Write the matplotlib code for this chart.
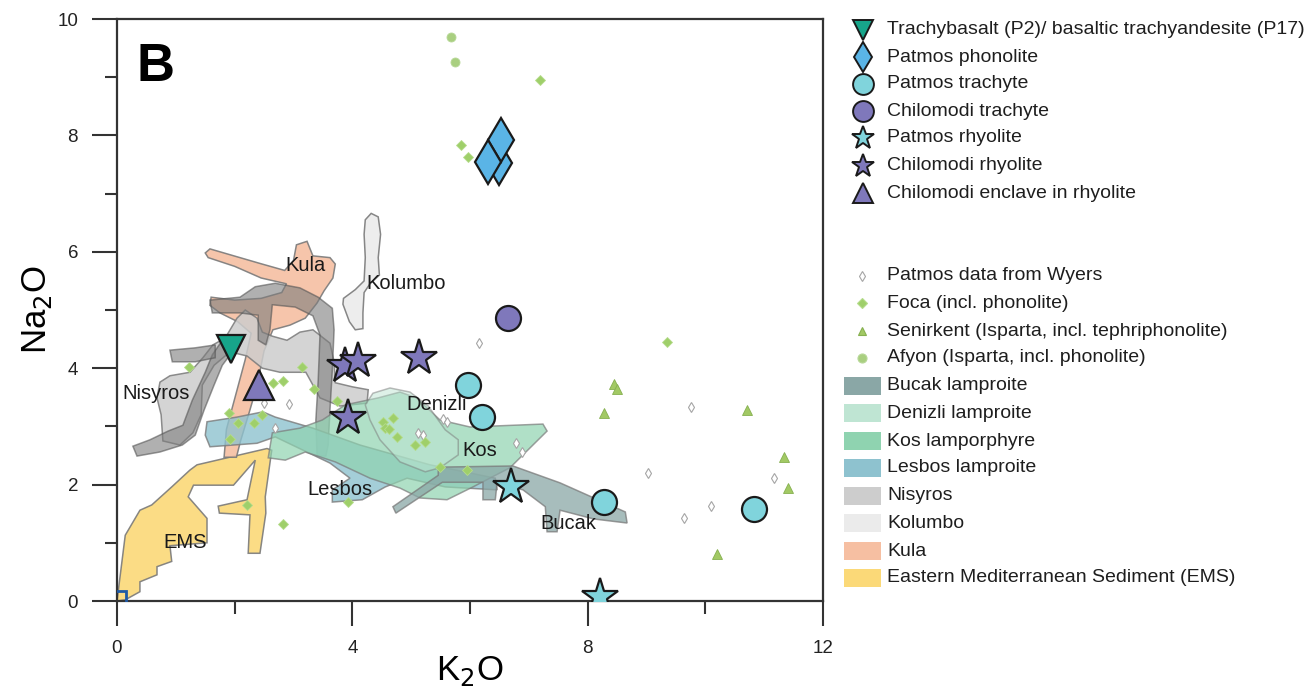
import matplotlib
matplotlib.use("Agg")
import matplotlib.pyplot as plt
from matplotlib.patches import Polygon, Rectangle

plt.rcParams['font.family'] = ['Liberation Sans', 'DejaVu Sans']

# ---------------- sample compositions (K2O, Na2O in wt%) ----------------
trachybasalt_k2o = [1.94]
trachybasalt_na2o = [4.33]
patmos_phonolite_k2o = [6.49, 6.53, 6.30]
patmos_phonolite_na2o = [7.52, 7.92, 7.55]
patmos_trachyte_k2o = [5.97, 6.21, 8.27, 10.82]
patmos_trachyte_na2o = [3.71, 3.16, 1.70, 1.58]
chilomodi_trachyte_k2o = [6.65]
chilomodi_trachyte_na2o = [4.86]
patmos_rhyolite_k2o = [6.70, 8.21]
patmos_rhyolite_na2o = [1.96, 0.07]
chilomodi_rhyolite_k2o = [3.88, 4.10, 5.14, 3.93]
chilomodi_rhyolite_na2o = [4.04, 4.12, 4.18, 3.14]
chilomodi_enclave_k2o = [2.41]
chilomodi_enclave_na2o = [3.71]
origin_k2o = [0.05]
origin_na2o = [0.07]

# ---------------- literature data ----------------
wyers_k2o = [6.16, 5.54, 5.61, 5.12, 5.20, 6.79, 6.89, 9.76, 9.03, 10.10, 9.64, 11.16, 2.50, 2.93, 2.69]
wyers_na2o = [4.43, 3.13, 3.08, 2.89, 2.85, 2.71, 2.56, 3.33, 2.20, 1.63, 1.43, 2.11, 3.40, 3.38, 2.97]
foca_k2o = [7.19, 5.85, 5.97, 9.35, 1.22, 2.65, 2.82, 3.15, 3.35, 3.74, 1.90, 2.06, 2.33, 2.47,
            1.92, 2.21, 2.82, 4.52, 4.69, 4.56, 4.63, 4.76, 5.07, 5.24, 5.49, 5.95, 3.93]
foca_na2o = [8.95, 7.84, 7.63, 4.45, 4.02, 3.75, 3.78, 4.02, 3.64, 3.44, 3.23, 3.06, 3.06, 3.20,
             2.78, 1.65, 1.32, 3.08, 3.14, 2.97, 2.96, 2.82, 2.68, 2.73, 2.30, 2.25, 1.70]
senirkent_k2o = [8.44, 8.50, 8.28, 10.70, 11.34, 11.41, 10.19]
senirkent_na2o = [3.73, 3.64, 3.23, 3.28, 2.47, 1.94, 0.81]
afyon_k2o = [5.68, 5.75]
afyon_na2o = [9.69, 9.26]

# ---------------- compositional fields (outlines) ----------------
ems_k2o = [0.00, 0.14, 0.39, 0.39, 0.68, 0.68, 0.93, 0.90, 1.53, 1.53, 1.21, 1.30, 1.98, 2.35, 2.21,
           1.72, 1.74, 2.26, 2.23, 2.43, 2.53, 2.52, 2.63, 2.55, 2.21, 1.36, 1.24, 0.93, 0.59, 0.39, 0.14]
ems_na2o = [0.00, 0.02, 0.16, 0.33, 0.45, 0.59, 0.68, 0.95, 1.00, 1.42, 1.79, 1.99, 1.99, 2.42, 1.74,
            1.63, 1.51, 1.48, 0.82, 0.82, 1.51, 1.79, 2.59, 2.62, 2.54, 2.34, 2.25, 1.96, 1.65, 1.56, 1.13]

kula_k2o = [1.58, 2.43, 2.85, 3.00, 3.05, 3.23, 3.33, 3.62, 3.71, 3.67, 3.52, 3.40, 3.20, 2.94, 2.65,
            2.50, 2.38, 2.25, 2.10, 2.03, 1.82, 1.86, 2.02, 2.18, 2.28, 2.05, 1.75, 1.58, 1.60, 2.00,
            2.45, 2.80, 2.88, 2.45, 2.00, 1.55, 1.50]
kula_na2o = [6.05, 5.80, 5.68, 5.85, 6.12, 6.18, 5.93, 5.90, 5.79, 5.55, 5.33, 5.12, 4.86, 4.74, 4.66,
             4.30, 3.70, 3.25, 2.75, 2.47, 2.47, 2.95, 3.55, 4.15, 4.60, 4.80, 4.95, 5.08, 5.22, 5.17,
             5.20, 5.30, 5.45, 5.55, 5.75, 5.90, 5.98]

kolumbo_k2o = [4.22, 4.32, 4.44, 4.48, 4.44, 4.46, 4.30, 4.20, 4.18, 4.18, 4.05, 3.95, 3.84, 3.85, 4.05, 4.20, 4.22, 4.20]
kolumbo_na2o = [6.55, 6.66, 6.60, 6.30, 5.90, 5.60, 5.45, 5.30, 4.95, 4.68, 4.66, 4.80, 5.10, 5.20, 5.35, 5.50, 5.90, 6.30]

nisyros_k2o = [0.73, 0.90, 1.24, 1.46, 1.63, 1.84, 2.04, 2.18, 2.38, 2.47, 2.64, 2.89, 3.11, 3.33, 3.62,
               3.69, 3.71, 4.00, 4.27, 4.25, 3.79, 3.45, 3.21, 2.77, 2.47, 2.21, 1.92, 1.65, 1.45, 1.43,
               1.29, 1.07, 0.78, 0.75, 0.68]
nisyros_na2o = [3.76, 3.87, 3.93, 4.18, 4.40, 4.52, 4.86, 5.00, 4.86, 4.62, 4.55, 4.48, 4.62, 4.66, 4.43,
                4.11, 3.75, 3.68, 3.63, 3.40, 3.35, 3.49, 3.93, 3.93, 4.00, 4.21, 4.28, 4.05, 3.71, 3.20,
                2.89, 2.68, 2.75, 3.20, 3.49]

grey_a_k2o = [1.58, 2.09, 2.35, 2.69, 3.11, 3.42, 3.66, 3.69, 3.66, 3.62, 3.59, 3.55, 3.40, 3.38, 3.42,
              3.45, 3.33, 3.03, 2.64, 2.60, 2.53, 2.40, 2.40, 2.09, 1.62]
grey_a_na2o = [5.17, 5.22, 5.40, 5.46, 5.38, 5.22, 5.03, 4.66, 3.97, 3.28, 2.68, 2.49, 2.49, 3.11, 3.80,
               4.57, 4.90, 5.05, 5.09, 4.66, 4.40, 4.48, 4.91, 4.95, 4.95]
grey_b_k2o = [0.27, 0.56, 0.87, 1.12, 1.28, 1.50, 1.62, 1.79, 2.01, 1.96, 1.79, 1.65, 1.48, 1.33, 1.11, 0.73, 0.34]
grey_b_na2o = [2.66, 2.77, 2.92, 3.02, 3.45, 3.93, 4.23, 4.48, 4.52, 4.28, 4.05, 3.71, 3.28, 2.85, 2.68, 2.56, 2.49]
grey_c_k2o = [0.90, 1.33, 1.67, 1.67, 1.33, 0.94]
grey_c_na2o = [4.31, 4.35, 4.40, 4.18, 4.11, 4.11]

lesbos_k2o = [1.53, 2.04, 2.48, 2.69, 3.33, 4.13, 5.32, 6.43, 6.46, 5.58, 4.93, 4.56, 4.17, 3.66, 3.66,
              3.96, 3.62, 2.69, 2.38, 1.58, 1.50]
lesbos_na2o = [3.08, 3.16, 3.25, 3.16, 2.97, 2.68, 2.34, 2.11, 1.91, 1.96, 2.11, 1.96, 1.74, 1.70, 1.91,
               2.11, 2.37, 2.82, 2.71, 2.65, 2.85]

kos_k2o = [2.57, 2.64, 3.11, 3.49, 3.88, 4.44, 4.81, 5.09, 5.49, 6.00, 7.24, 7.31, 6.68, 6.05, 5.61,
           5.15, 4.81, 4.30, 3.71, 3.20, 2.86]
kos_na2o = [2.46, 2.89, 2.97, 3.11, 3.37, 3.49, 3.59, 3.49, 3.11, 2.99, 3.04, 2.92, 2.29, 1.96, 1.74,
            1.77, 1.94, 2.11, 2.39, 2.56, 2.42]

denizli_k2o = [4.35, 4.64, 4.98, 5.29, 5.58, 5.80, 5.80, 5.49, 5.24, 4.81, 4.47, 4.30, 4.22]
denizli_na2o = [3.57, 3.66, 3.59, 3.35, 2.94, 2.77, 2.51, 2.29, 2.22, 2.39, 2.77, 3.11, 3.37]

bucak_k2o = [4.69, 5.46, 5.46, 6.73, 7.53, 8.64, 8.67, 8.10, 7.53, 7.48, 7.31, 7.28, 6.90, 6.46, 6.43,
             6.22, 6.22, 5.53, 4.74]
bucak_na2o = [1.62, 2.16, 2.30, 2.32, 2.03, 1.53, 1.34, 1.41, 1.56, 1.19, 1.19, 1.62, 1.91, 2.03, 1.74,
              1.74, 2.04, 2.04, 1.51]

field_labels = ['Kula', 'Kolumbo', 'Nisyros', 'Denizli', 'Kos', 'Lesbos', 'Bucak', 'EMS']
field_label_k2o = [3.21, 4.91, 0.66, 5.43, 6.16, 3.79, 7.67, 1.16]
field_label_na2o = [5.77, 5.46, 3.57, 3.37, 2.58, 1.91, 1.34, 1.01]

x_ticks = [0, 4, 8, 12]
y_ticks = [0, 2, 4, 6, 8, 10]

# ---------------- colours ----------------
C_BUCAK = '#8aa7a6'
C_DENIZLI = '#bfe5d3'
C_KOS = '#8fd3b0'
C_LESBOS = '#8ec2cf'
C_NISYROS = '#cdcdcd'
C_KOLUMBO = '#ebebeb'
C_KULA = '#f6bfa2'
C_EMS = '#fbd978'
C_GREY = '#7c7c7c'
C_TEAL = '#17a58a'
C_BLUE = '#5ab4e6'
C_CYAN = '#80d4dc'
C_PURPLE = '#7f78bb'
C_GREEN = '#9fcf6a'
C_TRI = '#a2c964'
C_AFY = '#a9cf80'

fig = plt.figure(figsize=(13.08, 6.90), dpi=100)
ax = fig.add_axes([117 / 1308, 1 - 601 / 690, 706 / 1308, 582 / 690])

def field(xs, ys, color, alpha, z, edge='#7a7a7a'):
    ax.add_patch(Polygon(list(zip(xs, ys)), closed=True, facecolor=color, alpha=alpha,
                         edgecolor=edge, linewidth=1.1, zorder=z))

field(ems_k2o, ems_na2o, C_EMS, 0.9, 1)
field(kula_k2o, kula_na2o, C_KULA, 0.9, 1.1)
field(nisyros_k2o, nisyros_na2o, C_NISYROS, 0.85, 1.2)
field(kolumbo_k2o, kolumbo_na2o, C_KOLUMBO, 0.9, 1.3)
field(grey_a_k2o, grey_a_na2o, C_GREY, 0.6, 1.4, edge='#555555')
field(grey_b_k2o, grey_b_na2o, C_GREY, 0.6, 1.4, edge='#555555')
field(grey_c_k2o, grey_c_na2o, C_GREY, 0.6, 1.4, edge='#555555')
field(lesbos_k2o, lesbos_na2o, C_LESBOS, 0.8, 1.5)
field(kos_k2o, kos_na2o, C_KOS, 0.7, 1.6)
field(denizli_k2o, denizli_na2o, C_DENIZLI, 0.5, 1.7)
field(bucak_k2o, bucak_na2o, C_BUCAK, 0.75, 1.8)

for name, kx, ny in zip(field_labels, field_label_k2o, field_label_na2o):
    ax.text(kx, ny, name, fontsize=14.5, ha='center', va='center', color='#1a1a1a', zorder=3)

# literature points
ax.plot(wyers_k2o, wyers_na2o, 'd', ms=5, mfc='white', mec='#a5a5a5', mew=0.8, ls='none', zorder=4)
ax.plot(foca_k2o, foca_na2o, 'D', ms=4.6, mfc=C_GREEN, mec='#b5dc8c', mew=0.6, ls='none', zorder=4)
ax.plot(senirkent_k2o, senirkent_na2o, '^', ms=6.5, mfc=C_TRI, mec='#86b050', mew=0.6, ls='none', zorder=4)
ax.plot(afyon_k2o, afyon_na2o, 'o', ms=6.5, mfc=C_AFY, mec='#b8d898', mew=0.6, ls='none', zorder=4)

# samples
kw = dict(ls='none', mec='#1a1a1a', mew=1.6, zorder=6)
ax.plot(patmos_phonolite_k2o, patmos_phonolite_na2o, 'd', ms=22, mfc=C_BLUE, **kw)
ax.plot(patmos_trachyte_k2o, patmos_trachyte_na2o, 'o', ms=18, mfc=C_CYAN, **kw)
ax.plot(chilomodi_trachyte_k2o, chilomodi_trachyte_na2o, 'o', ms=18, mfc=C_PURPLE, **kw)
ax.plot(patmos_rhyolite_k2o, patmos_rhyolite_na2o, '*', ms=27, mfc=C_CYAN, **kw)
ax.plot(chilomodi_rhyolite_k2o, chilomodi_rhyolite_na2o, '*', ms=27, mfc=C_PURPLE, **kw)
ax.plot(chilomodi_enclave_k2o, chilomodi_enclave_na2o, '^', ms=21, mfc=C_PURPLE, **kw)
ax.plot(trachybasalt_k2o, trachybasalt_na2o, 'v', ms=20, mfc=C_TEAL, **kw)
ax.plot(origin_k2o, origin_na2o, 's', ms=9, mfc='none', mec='#1f5aa6', mew=2.0, ls='none', zorder=6)

ax.text(0.33, 8.93, 'B', fontsize=38, fontweight='bold', ha='left', va='baseline', zorder=7)

ax.set_xlim(0, 12)
ax.set_ylim(0, 10)
ax.set_xticks(x_ticks)
ax.set_xticks([2, 6, 10], minor=True)
ax.set_yticks(y_ticks)
ax.set_yticks([1, 3, 5, 7, 9], minor=True)
ax.tick_params(which='major', length=18, width=1.5, color='#333333', labelsize=13.5,
               labelcolor='#222222', pad=10, direction='out')
ax.tick_params(which='minor', length=9, width=1.5, color='#333333', direction='out')
for s in ax.spines.values():
    s.set_linewidth(1.6)
    s.set_color('#333333')
ax.set_xlabel('K$_2$O', fontsize=25, labelpad=-2)
ax.set_ylabel('Na$_2$O', fontsize=25, labelpad=2)

# ---------------- legend ----------------
lax = fig.add_axes([0, 0, 1, 1])
lax.set_xlim(0, 1308)
lax.set_ylim(690, 0)
lax.axis('off')
lax.set_facecolor('none')

sample_entries = [
    ('v', C_TEAL, 'Trachybasalt (P2)/ basaltic trachyandesite (P17)', 15),
    ('d', C_BLUE, 'Patmos phonolite', 15),
    ('o', C_CYAN, 'Patmos trachyte', 15),
    ('o', C_PURPLE, 'Chilomodi trachyte', 15),
    ('*', C_CYAN, 'Patmos rhyolite', 17),
    ('*', C_PURPLE, 'Chilomodi rhyolite', 17),
    ('^', C_PURPLE, 'Chilomodi enclave in rhyolite', 15),
]
row_y = [30, 57, 84, 111, 138, 166, 193]
for (m, c, lab, ms), yy in zip(sample_entries, row_y):
    lax.plot([863], [yy], m, ms=ms, mfc=c, mec='#1a1a1a', mew=1.4, ls='none')
    lax.text(887, yy, lab, fontsize=14, va='center', ha='left', color='#1e1e1e')

point_entries = [
    ('d', 'white', '#a5a5a5', 'Patmos data from Wyers', 5),
    ('D', C_GREEN, '#b5dc8c', 'Foca (incl. phonolite)', 5),
    ('^', C_TRI, '#86b050', 'Senirkent (Isparta, incl. tephriphonolite)', 6),
    ('o', C_AFY, '#b8d898', 'Afyon (Isparta, incl. phonolite)', 6.5),
]
pt_y = [276, 303, 331, 358]
for (m, fc, ec, lab, ms), yy in zip(point_entries, pt_y):
    lax.plot([862], [yy], m, ms=ms, mfc=fc, mec=ec, mew=0.8, ls='none')
    lax.text(887, yy, lab, fontsize=14, va='center', ha='left', color='#1e1e1e')

field_entries = [
    (C_BUCAK, 'Bucak lamproite'),
    (C_DENIZLI, 'Denizli lamproite'),
    (C_KOS, 'Kos lamporphyre'),
    (C_LESBOS, 'Lesbos lamproite'),
    (C_NISYROS, 'Nisyros'),
    (C_KOLUMBO, 'Kolumbo'),
    (C_KULA, 'Kula'),
    (C_EMS, 'Eastern Mediterranean Sediment (EMS)'),
]
fld_y = [386, 413, 441, 468, 496, 523, 551, 578]
for (c, lab), yy in zip(field_entries, fld_y):
    lax.add_patch(Rectangle((844, yy - 9), 37, 18, facecolor=c, edgecolor='none'))
    lax.text(887, yy, lab, fontsize=14, va='center', ha='left', color='#1e1e1e')

fig.savefig('out.png', dpi=100, facecolor='white')
